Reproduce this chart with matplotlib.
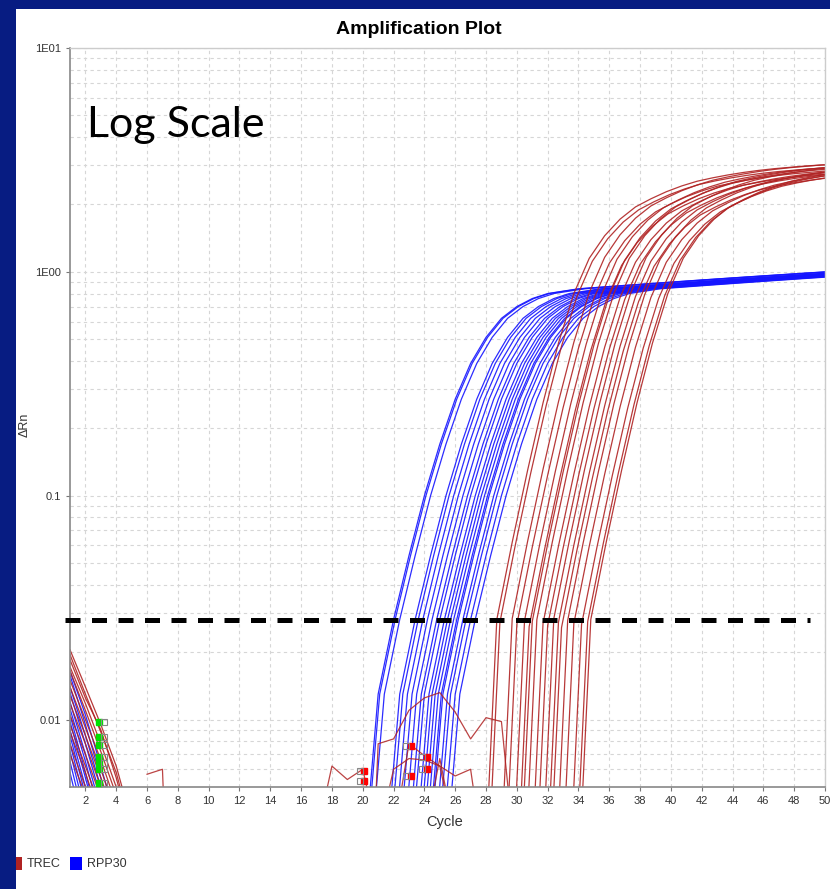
import numpy as np
import matplotlib
matplotlib.use("Agg")
import matplotlib.pyplot as plt
from matplotlib.patches import Rectangle

NARROW = ["Liberation Sans", "DejaVu Sans"]

# threshold cycle (Ct) of each well, read where the curve meets the dashed line
rpp30_ct = [22.0, 22.1, 22.4, 23.4, 23.6, 23.9, 24.2, 24.5, 24.8, 25.0,
            25.3, 25.5, 25.7, 25.9, 26.1, 26.2, 26.5, 26.7, 27.0, 27.3]
trec_ct = [28.7, 28.9, 29.7, 30.0, 30.5, 30.8, 31.0, 31.3, 31.7, 32.0,
           32.4, 32.7, 32.9, 33.3, 33.7, 34.2, 34.6, 34.8]
trec_plateau = [1.0, 0.97, 1.01, 0.95, 0.99, 0.93, 0.98, 1.0, 0.96, 0.94,
                1.01, 0.97, 0.92, 0.99, 0.96, 0.95, 0.98, 1.0]

rpp30_offset = list(range(-3, 29))
rpp30_shape = [0.0008, 0.002, 0.013, 0.028, 0.054, 0.10, 0.17, 0.27, 0.39, 0.51,
               0.62, 0.70, 0.76, 0.80, 0.82, 0.84, 0.85, 0.86, 0.87, 0.88,
               0.89, 0.90, 0.91, 0.92, 0.93, 0.94, 0.95, 0.96, 0.97, 0.98,
               0.99, 1.00]
trec_offset = list(range(-1, 23))
trec_shape = [0.001, 0.028, 0.062, 0.13, 0.26, 0.48, 0.80, 1.15, 1.45, 1.72,
              1.95, 2.12, 2.28, 2.42, 2.54, 2.63, 2.71, 2.78, 2.84, 2.89,
              2.93, 2.97, 3.00, 3.02]

# early baseline (cycles 1-5)
early_cycles = [1, 2, 3, 4, 5]
trec_early = [
    [0.0205, 0.0140, 0.0095, 0.0062, 0.0035],
    [0.0195, 0.0130, 0.0088, 0.0058, 0.0032],
    [0.0185, 0.0125, 0.0090, 0.0055, 0.0030],
    [0.0172, 0.0118, 0.0078, 0.0050, 0.0028],
    [0.0165, 0.0110, 0.0072, 0.0046, 0.0026],
    [0.0150, 0.0100, 0.0066, 0.0042, 0.0024],
    [0.0140, 0.0092, 0.0060, 0.0038, 0.0022],
    [0.0128, 0.0085, 0.0055, 0.0035, 0.0020],
    [0.0118, 0.0078, 0.0050, 0.0032, 0.0018],
    [0.0105, 0.0070, 0.0045, 0.0029, 0.0016],
    [0.0095, 0.0062, 0.0040, 0.0026, 0.0015],
    [0.0088, 0.0058, 0.0036, 0.0022, 0.0013],
    [0.0078, 0.0050, 0.0032, 0.0020, 0.0012],
    [0.0070, 0.0046, 0.0028, 0.0018, 0.0010],
]
rpp30_early = [
    [0.0165, 0.0105, 0.0062, 0.0035, 0.0020],
    [0.0158, 0.0095, 0.0055, 0.0030, 0.0017],
    [0.0140, 0.0085, 0.0050, 0.0028, 0.0016],
    [0.0132, 0.0078, 0.0045, 0.0025, 0.0014],
    [0.0120, 0.0070, 0.0040, 0.0022, 0.0012],
    [0.0112, 0.0065, 0.0036, 0.0020, 0.0011],
    [0.0105, 0.0058, 0.0032, 0.0018, 0.0010],
    [0.0098, 0.0055, 0.0030, 0.0016, 0.0009],
    [0.0090, 0.0050, 0.0028, 0.0015, 0.0008],
    [0.0085, 0.0046, 0.0025, 0.0014, 0.0008],
    [0.0078, 0.0042, 0.0022, 0.0012, 0.0007],
    [0.0072, 0.0038, 0.0020, 0.0011, 0.0006],
    [0.0065, 0.0034, 0.0018, 0.0010, 0.0005],
    [0.0058, 0.0030, 0.0016, 0.0009, 0.0005],
]

# noisy TREC wells near the floor
trec_noise = [
    ([20, 21, 22, 23, 24, 25, 26, 27, 28, 29, 30],
     [0.0002, 0.0078, 0.0082, 0.011, 0.0125, 0.0132, 0.0108, 0.0082, 0.0102, 0.0098, 0.002]),
    ([17, 18, 19, 20, 21], [0.003, 0.0062, 0.0054, 0.0060, 0.003]),
    ([21, 22, 23, 24, 25, 26, 27, 28], [0.003, 0.0060, 0.0067, 0.0066, 0.0062, 0.0056, 0.0060, 0.002]),
    ([22, 23, 24, 25, 26], [0.003, 0.0078, 0.0069, 0.0062, 0.003]),
    ([24, 25, 26], [0.003, 0.0067, 0.003]),
    ([6, 7, 8], [0.0057, 0.0060, 0.0001]),
]

threshold = 0.028

# baseline start / end markers
start_cycle = [2.9] * 7
start_val = [0.0098, 0.0084, 0.0077, 0.0068, 0.0064, 0.0060, 0.0052]
end_cycle = [20.1, 20.1, 23.1, 23.1, 24.15, 24.15]
end_val = [0.0059, 0.0053, 0.0076, 0.0056, 0.0068, 0.0060]

red = "#b02323"
blue = "#1515ff"
navy = "#071c82"

fig = plt.figure(figsize=(8.30, 8.89), dpi=100, facecolor=navy)
fig.patches.append(Rectangle((16 / 830, 0), 1, 1 - 9 / 889, transform=fig.transFigure,
                             facecolor="white", edgecolor="none", zorder=-5))

ax = fig.add_axes([70 / 830, 1 - 787 / 889, 755 / 830, 739 / 889])
ax.set_yscale("log")
ax.set_xlim(1, 50)
ax.set_ylim(0.005, 10)

for ct in rpp30_ct:
    ax.plot(np.array(rpp30_offset) + ct, rpp30_shape, color=blue, lw=0.9, alpha=0.9)
for vals in rpp30_early:
    ax.plot(early_cycles, vals, color=blue, lw=0.9, alpha=0.9)
for ct, p in zip(trec_ct, trec_plateau):
    ax.plot(np.array(trec_offset) + ct, np.array(trec_shape) * p, color=red, lw=0.9, alpha=0.9)
for vals in trec_early:
    ax.plot(early_cycles, vals, color=red, lw=0.9, alpha=0.9)
for cyc, vals in trec_noise:
    ax.plot(cyc, vals, color=red, lw=0.9, alpha=0.85)

ax.plot(start_cycle, start_val, ls="none", marker="s", ms=5, color="#00e000", zorder=5)
ax.plot(np.array(start_cycle) + 0.3, start_val, ls="none", marker="s", ms=4.5,
        mfc="none", mec="#888888", mew=0.8, zorder=5)
ax.plot(end_cycle, end_val, ls="none", marker="s", ms=5, color="#ff0000", zorder=5)
ax.plot(np.array(end_cycle) - 0.3, end_val, ls="none", marker="s", ms=4.5,
        mfc="none", mec="#888888", mew=0.8, zorder=5)

ax.plot([0.7, 49.0], [threshold, threshold], color="black", lw=3.6,
        dashes=(3, 2.3), clip_on=False, zorder=6)

# axes styling
ax.set_xticks(range(2, 51, 2))
ax.set_yticks([0.01, 0.1, 1, 10])
ax.set_yticklabels(["0.01", "0.1", "1E00", "1E01"])
ax.yaxis.set_minor_formatter(plt.NullFormatter())
ax.tick_params(axis="both", which="major", length=3, width=0.8, color="#777777",
               labelcolor="#333333", labelsize=8)
ax.tick_params(axis="y", which="minor", length=0)
for lab in ax.get_xticklabels() + ax.get_yticklabels():
    lab.set_family(NARROW)
ax.grid(True, which="major", color="#d6d6d6", ls=(0, (3, 3)), lw=0.8)
ax.grid(True, which="minor", axis="y", color="#d6d6d6", ls=(0, (3, 3)), lw=0.8)
ax.set_axisbelow(True)
for side in ["left", "bottom"]:
    ax.spines[side].set_color("#888888")
    ax.spines[side].set_linewidth(1.2)
for side in ["top", "right"]:
    ax.spines[side].set_color("#cccccc")
    ax.spines[side].set_linewidth(1.0)

ax.text(0.0225, 0.8796, "Log Scale", transform=ax.transAxes, fontsize=31,
        family=["Lato", "DejaVu Sans"], va="baseline", ha="left", color="black")

fig.text(419 / 830, 1 - 29 / 889, "Amplification Plot", ha="center", va="center",
         fontsize=14, fontweight="bold", family=NARROW)
fig.text(25 / 830, 1 - 425 / 889, "\u0394Rn", rotation=90, ha="center", va="center",
         fontsize=9, color="#333333", family=NARROW)
fig.text(445 / 830, 1 - 822 / 889, "Cycle", ha="center", va="center",
         fontsize=10.5, color="#333333", family=NARROW)

# legend
fig.patches.append(Rectangle((16 / 830, 1 - 870 / 889), 6 / 830, 13 / 889,
                             transform=fig.transFigure, facecolor=red, edgecolor="none"))
fig.text(27 / 830, 1 - 864 / 889, "TREC", ha="left", va="center", fontsize=9,
         color="#333333", family=NARROW)
fig.patches.append(Rectangle((70 / 830, 1 - 870 / 889), 12 / 830, 13 / 889,
                             transform=fig.transFigure, facecolor="#0000ff", edgecolor="none"))
fig.text(87 / 830, 1 - 864 / 889, "RPP30", ha="left", va="center", fontsize=9,
         color="#333333", family=NARROW)

fig.savefig("out.png", dpi=100, facecolor=navy)
